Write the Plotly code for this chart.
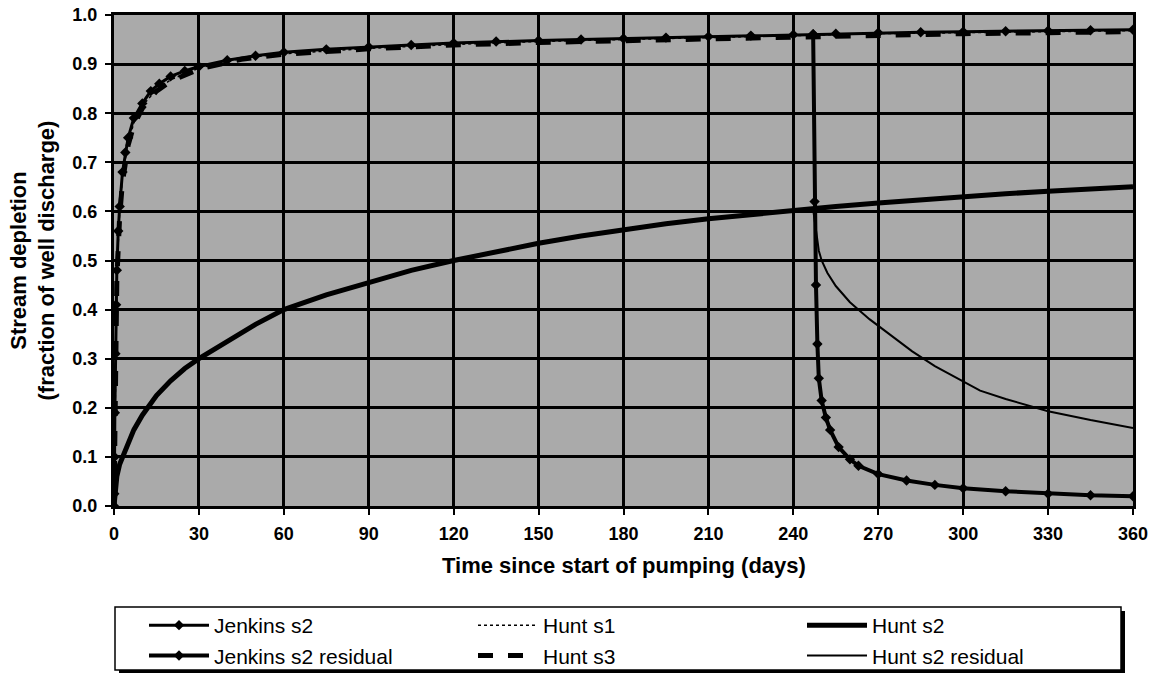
import plotly.graph_objects as go

# ---------------- data ----------------
jenkins_t = [0, 0.1, 0.2, 0.3, 0.5, 0.75, 1, 1.5, 2, 3, 4, 5, 7, 10, 13, 16, 20, 25, 30, 40, 50,
             60, 75, 90, 105, 120, 135, 150, 165, 180, 195, 210, 225, 240, 247, 255, 270, 285,
             300, 315, 330, 345, 360]
jenkins_v = [0, 0.025, 0.10, 0.19, 0.31, 0.41, 0.48, 0.56, 0.61, 0.68, 0.72, 0.75, 0.79, 0.82,
             0.845, 0.86, 0.875, 0.886, 0.895, 0.908, 0.917, 0.924, 0.93, 0.935, 0.939, 0.943,
             0.946, 0.948, 0.95, 0.952, 0.954, 0.956, 0.958, 0.96, 0.961, 0.962, 0.964, 0.965,
             0.966, 0.967, 0.968, 0.969, 0.97]

jres_t = [247, 247.5, 248, 248.5, 249, 250, 251.5, 253, 256, 260, 263, 270, 280, 290, 300, 315,
          330, 345, 360]
jres_v = [0.961, 0.62, 0.45, 0.33, 0.26, 0.215, 0.18, 0.155, 0.12, 0.095, 0.082, 0.065, 0.052,
          0.043, 0.036, 0.03, 0.025, 0.022, 0.02]

hunt1_t = [0, 0.25, 0.5, 1, 2, 3, 5, 7, 10, 15, 20, 30, 45, 60, 90, 120, 150, 180, 210, 240,
           270, 300, 330, 360]
hunt1_v = [0, 0.15, 0.30, 0.47, 0.60, 0.67, 0.74, 0.78, 0.815, 0.848, 0.868, 0.892, 0.912,
           0.921, 0.932, 0.94, 0.946, 0.95, 0.954, 0.958, 0.962, 0.964, 0.966, 0.968]

hunt3_t = [0, 0.25, 0.5, 1, 2, 3, 5, 7, 10, 15, 20, 30, 45, 60, 90, 120, 150, 180, 210, 240,
           270, 300, 330, 360]
hunt3_v = [0, 0.14, 0.29, 0.46, 0.59, 0.66, 0.735, 0.775, 0.81, 0.845, 0.865, 0.89, 0.91,
           0.92, 0.931, 0.939, 0.944, 0.948, 0.952, 0.956, 0.96, 0.962, 0.964, 0.966]

hunt2_t = [0, 0.25, 0.5, 1, 2, 3, 5, 7, 10, 15, 20, 25, 30, 40, 50, 60, 75, 90, 105, 120, 135,
           150, 165, 180, 195, 210, 225, 240, 255, 270, 285, 300, 315, 330, 345, 360]
hunt2_v = [0, 0.025, 0.04, 0.06, 0.085, 0.10, 0.13, 0.155, 0.185, 0.225, 0.255, 0.28, 0.30,
           0.335, 0.37, 0.40, 0.43, 0.455, 0.48, 0.50, 0.518, 0.535, 0.55, 0.563, 0.575, 0.585,
           0.594, 0.602, 0.61, 0.617, 0.624, 0.63, 0.636, 0.641, 0.646, 0.65]

h2res_t = [247, 248, 249, 250, 252, 255, 260, 267, 275, 282, 290, 298, 306, 315, 330, 345, 360]
h2res_v = [0.604, 0.56, 0.52, 0.50, 0.475, 0.448, 0.415, 0.38, 0.345, 0.315, 0.285, 0.26, 0.235,
           0.218, 0.193, 0.175, 0.159]

x_ticks = [0, 30, 60, 90, 120, 150, 180, 210, 240, 270, 300, 330, 360]
y_ticks = [0.0, 0.1, 0.2, 0.3, 0.4, 0.5, 0.6, 0.7, 0.8, 0.9, 1.0]

x_title = "Time since start of pumping (days)"
y_title = "Stream depletion<br>(fraction of well discharge)"

# ---------------- layout geometry (pixels) ----------------
W, H = 1153, 673
L, R, T, B = 114, 1133, 15, 506
PW, PH = R - L, B - T


def px(x):
    return (x - L) / PW


def py(y):
    return (B - y) / PH


FONT = "Liberation Sans, Arial, sans-serif"

fig = go.Figure()

# drawing order: Hunt s2 / residual, Jenkins residual, then upper curves
fig.add_trace(go.Scatter(x=hunt2_t, y=hunt2_v, name="Hunt s2", mode="lines",
                         line=dict(color="black", width=5), legendrank=3))
fig.add_trace(go.Scatter(x=h2res_t, y=h2res_v, name="Hunt s2 residual", mode="lines",
                         line=dict(color="black", width=2), legendrank=6))
fig.add_trace(go.Scatter(x=jres_t, y=jres_v, name="Jenkins s2 residual", mode="lines+markers",
                         line=dict(color="black", width=4),
                         marker=dict(symbol="diamond", size=8, color="black"), legendrank=4))
fig.add_trace(go.Scatter(x=hunt3_t, y=hunt3_v, name="Hunt s3", mode="lines",
                         line=dict(color="black", width=5, dash="dash"), legendrank=5))
fig.add_trace(go.Scatter(x=hunt1_t, y=hunt1_v, name="Hunt s1", mode="lines",
                         line=dict(color="black", width=1.5, dash="dot"), legendrank=2))
fig.add_trace(go.Scatter(x=jenkins_t, y=jenkins_v, name="Jenkins s2", mode="lines+markers",
                         line=dict(color="black", width=3),
                         marker=dict(symbol="diamond", size=8, color="black"), legendrank=1))

# legend box with drop shadow
fig.add_shape(type="rect", xref="paper", yref="paper",
              x0=px(119), x1=px(1125), y0=py(674), y1=py(611),
              fillcolor="black", line=dict(width=0), layer="above")
fig.add_shape(type="rect", xref="paper", yref="paper",
              x0=px(115), x1=px(1121), y0=py(670), y1=py(607),
              fillcolor="white", line=dict(color="black", width=1.5), layer="above")

fig.add_annotation(text=x_title, xref="paper", yref="paper", x=0.5, y=py(565),
                   xanchor="center", yanchor="middle", showarrow=False,
                   font=dict(family=FONT, size=22, color="black", weight="bold"))
fig.add_annotation(text=y_title, xref="paper", yref="paper", x=px(32), y=0.5,
                   xanchor="center", yanchor="middle", showarrow=False, textangle=-90,
                   font=dict(family=FONT, size=22, color="black", weight="bold"))

axis_common = dict(showgrid=True, gridcolor="black", gridwidth=2.5, showline=True,
                   linecolor="black", linewidth=3, mirror=True, ticks="outside",
                   ticklen=6, tickwidth=2, tickcolor="black", zeroline=False,
                   tickfont=dict(family=FONT, size=18, color="black", weight="bold"))

fig.update_layout(
    width=W, height=H,
    margin=dict(l=L, r=W - R, t=T, b=H - B, autoexpand=False),
    paper_bgcolor="white", plot_bgcolor="#aaaaaa",
    showlegend=True,
    legend=dict(orientation="h", x=px(144), xanchor="left", y=py(605), yanchor="top",
                entrywidth=254, entrywidthmode="pixels", itemwidth=60,
                bgcolor="rgba(0,0,0,0)", borderwidth=0, traceorder="normal",
                font=dict(family=FONT, size=21, color="black")),
)
fig.update_xaxes(range=[0, 360], tickvals=x_ticks, ticktext=[str(v) for v in x_ticks],
                 ticklabelstandoff=3, **axis_common)
fig.update_yaxes(range=[0, 1], tickvals=y_ticks, ticktext=[f"{v:.1f}" for v in y_ticks],
                 ticklabelstandoff=4, **axis_common)

fig.write_html("out.html", config={"displayModeBar": False},
               post_script="document.body.style.margin='0';")
